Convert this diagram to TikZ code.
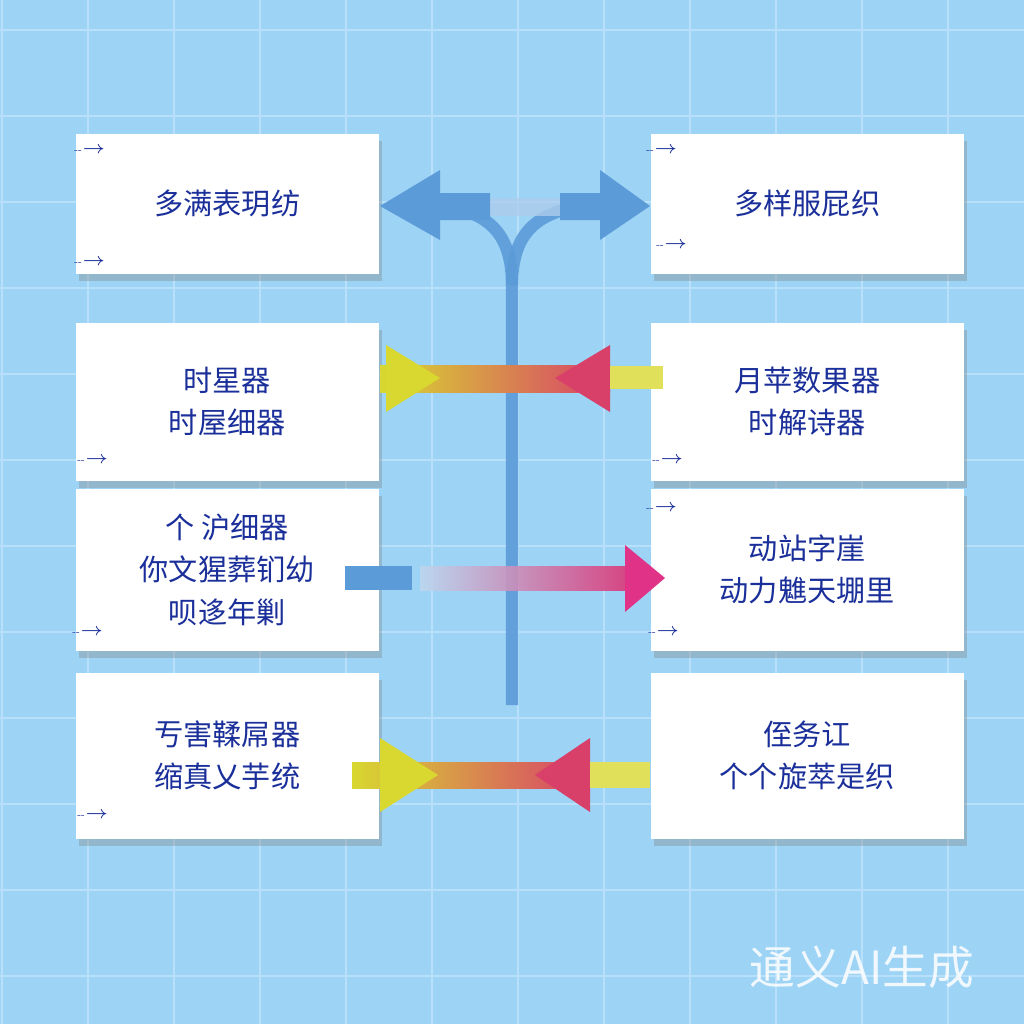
\documentclass[tikz,border=0pt]{standalone}
\usepackage{fontspec}
\newfontfamily\cjk{Noto Sans CJK SC}
\usetikzlibrary{shadows}
\definecolor{bg}{HTML}{9DD3F5}
\definecolor{gridc}{HTML}{B8E0FA}
\definecolor{txt}{HTML}{1A2F9A}
\definecolor{flow}{HTML}{5B9BD8}
\definecolor{yel}{HTML}{D8D830}
\definecolor{red}{HTML}{D8406A}
\tikzset{
 card/.style={fill=white,draw=none,minimum width=3.03cm,anchor=north west,inner sep=0pt,
   drop shadow={shadow xshift=1pt,shadow yshift=-2pt,opacity=0.35}},
 lbl/.style={font=\cjk\fontsize{8.3}{12}\selectfont,text=txt,align=center},
 cornermark/.style={font=\sffamily\fontsize{3}{3}\selectfont,text=txt}
}
\begin{document}
\begin{tikzpicture}[x=0.01cm,y=-0.01cm]
\useasboundingbox (0,0) rectangle (1024,1024);
\clip (0,0) rectangle (1024,1024);
\fill[bg] (0,0) rectangle (1024,1024);
\foreach \i in {0,...,12} {\draw[gridc,line width=0.6pt] (\i*86+2,0) -- (\i*86+2,1024); \draw[gridc,line width=0.6pt] (0,\i*86+30) -- (1024,\i*86+30);}
% cards
\node[card,minimum height=1.40cm] (l1) at (75,133) {};
\node[card,minimum height=1.58cm] (l2) at (75,322) {};
\node[card,minimum height=1.62cm] (l3) at (75,488) {};
\node[card,minimum height=1.66cm] (l4) at (75,672) {};
\node[card,minimum height=1.40cm,minimum width=3.13cm] (r1) at (650,133) {};
\node[card,minimum height=1.58cm,minimum width=3.13cm] (r2) at (650,322) {};
\node[card,minimum height=1.62cm,minimum width=3.13cm] (r3) at (650,488) {};
\node[card,minimum height=1.66cm,minimum width=3.13cm] (r4) at (650,672) {};
\node[lbl] at (l1.center) {多满表玥纺};
\node[lbl] at (r1.center) {多样服屁织};
\node[lbl] at (l2.center) {时星器\\时屋细器};
\node[lbl] at (r2.center) {月苹数果器\\时解诗器};
\node[lbl] at (l3.center) {个\ 沪细器\\你文猩葬钔幼\\呗迻年剿};
\node[lbl] at (r3.center) {动站字崖\\动力魋天堋里};
\node[lbl] at (l4.center) {亐害鞣屌器\\缩真乂芋统};
\node[lbl] at (r4.center) {侄务讧\\个个旋萃是织};
\foreach \p in {(90,150),(90,262),(93,460),(88,632),(93,815),(662,150),(672,245),(668,460),(662,508),(664,632)} \node[cornermark] at \p {-{}-$\rightarrow$};
% central flow
\coordinate (bot) at (512,705);
\draw[flow,line width=3.5pt,opacity=0.9] (bot) -- (512,285) .. controls (512,235) and (490,215) .. (450,207);
\draw[flow,line width=3.5pt,opacity=0.9] (512,285) .. controls (512,235) and (535,215) .. (575,207);
\fill[flow!50,opacity=0.8] (490,198) rectangle (560,216);
\fill[flow] (440,193) -- (490,193) -- (490,220) -- (440,220) -- (440,240) -- (380,206) -- (440,170) -- cycle;
\fill[flow] (600,193) -- (560,193) -- (560,220) -- (600,220) -- (600,240) -- (650,206) -- (600,170) -- cycle;
% row 2
\shade[left color=yel,right color=red] (380,365) rectangle (610,392);
\fill[yel] (386,345) -- (440,378) -- (386,412) -- cycle;
\fill[red] (610,345) -- (555,378) -- (610,412) -- cycle;
\fill[yel!80!white] (610,366) rectangle (663,389);
% row 3
\fill[flow] (345,566) rectangle (412,590);
\shade[left color=flow!40,right color=red!90!magenta,opacity=0.9] (420,566) rectangle (625,590);
\fill[red!80!magenta] (625,545) -- (665,578) -- (625,612) -- cycle;
% row 4
\shade[left color=yel,right color=red] (352,762) rectangle (590,788);
\fill[yel] (380,738) -- (438,775) -- (380,812) -- cycle;
\fill[red] (590,738) -- (535,775) -- (590,812) -- cycle;
\fill[yel!80!white] (590,762) rectangle (650,788);
\node[font=\cjk\fontsize{13}{14}\selectfont,text=white,opacity=0.85] (wm) at (862,967) {通义AI生成};
\end{tikzpicture}
\end{document}
